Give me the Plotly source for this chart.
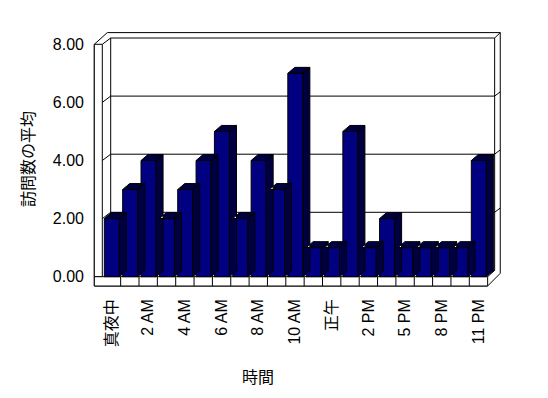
import plotly.graph_objects as go

# ---- data ----
categories = ["真夜中", "1 AM", "2 AM", "3 AM", "4 AM", "5 AM", "6 AM", "7 AM",
              "8 AM", "9 AM", "10 AM", "11 AM", "正午", "1 PM", "2 PM", "3 PM",
              "5 PM", "6 PM", "8 PM", "9 PM", "11 PM"]
values = [2, 3, 4, 2, 3, 4, 5, 2, 4, 3, 7, 1, 1, 5, 1, 2, 1, 1, 1, 1, 4]
y_ticks = [0, 2, 4, 6, 8]
y_title = "訪問数の平均"
x_title = "時間"

# ---- geometry (pixel calibration, page coordinates) ----
OFF = 8              # default page body margin
W, H = 548 - OFF, 398 - OFF
PXX = 18.35          # px per category slot
PXY = 29.05          # px per value unit
X0PX = 102.3 - OFF   # px of slot 0 left edge (front)
Y0PX = 276.7 - OFF   # px of value 0 (front)
L, R, T, B = 90 - OFF, 505 - OFF, 28 - OFF, 290 - OFF

def dx(px):
    return px / PXX

def dy(px):
    return px / PXY

xr = [(L - X0PX) / PXX, (R - X0PX) / PXX]
yr = [(Y0PX - B) / PXY, (Y0PX - T) / PXY]

n = len(categories)
ymax = y_ticks[-1]
bw = 0.82
boff = 0.02
bdx, bdy = dx(7), dy(6)        # bar depth
wdx, wdy = dx(8.4), dy(6.3)    # wall depth
lw_out = -dx(8)                # left wall outer x
floor_b = -dy(9.3)             # floor bottom
right_in = n + dx(7)           # back wall inner right
right_out = n + dx(12.6)
top_out = ymax + dy(11.7)

line = dict(color="black", width=1)
shapes = []

def poly(pts, fill="white"):
    path = "M " + " L ".join(f"{x},{y}" for x, y in pts) + " Z"
    shapes.append(dict(type="path", path=path, xref="x", yref="y",
                       fillcolor=fill, line=line, layer="below"))

def seg(x1, y1, x2, y2):
    shapes.append(dict(type="line", x0=x1, y0=y1, x1=x2, y1=y2, xref="x", yref="y",
                       line=line, layer="below"))

# back wall + outer silhouette
poly([(lw_out, ymax), (wdx - dx(3.4), top_out), (right_out, top_out),
      (right_out, dy(3.4)), (n, floor_b), (lw_out, floor_b)])
# back wall inner face
poly([(wdx, wdy), (wdx, ymax + wdy), (right_in, ymax + wdy), (right_in, wdy)])
seg(0, ymax, wdx, ymax + wdy)
seg(right_in, ymax + wdy, right_out, top_out)
seg(n, 0, right_in, wdy)
# gridlines
for v in y_ticks[1:-1]:
    seg(lw_out, v, 0, v)
    seg(0, v, wdx, v + wdy)
    seg(wdx, v + wdy, right_in, v + wdy)
    seg(right_in, v + wdy, right_out, v + wdy + dy(4.3))
# left wall front face
poly([(lw_out, 0), (lw_out, ymax), (0, ymax), (0, 0)])
# floor front face with slot dividers
poly([(lw_out, floor_b), (lw_out, 0), (n, 0), (n, floor_b)])
for i in range(1, n):
    seg(i, floor_b, i, 0)

# ---- 3D bar side/top faces (computed from values) ----
sx, sy = [], []
centers = [i + 0.5 + boff for i in range(n)]
for c, v in zip(centers, values):
    l, r = c - bw / 2, c + bw / 2
    # side face
    sx += [r, r + bdx, r + bdx, r, r, None]
    sy += [0, bdy, v + bdy, v, 0, None]
    # top face
    sx += [l, l + bdx, r + bdx, r, l, None]
    sy += [v, v + bdy, v + bdy, v, v, None]

fig = go.Figure()
fig.add_trace(go.Scatter(x=sx, y=sy, mode="lines", fill="toself",
                         fillcolor="#000040", line=dict(color="black", width=1),
                         hoverinfo="skip", showlegend=False))
fig.add_trace(go.Bar(x=centers, y=values, width=bw,
                     marker=dict(color="#000080", line=dict(color="black", width=1)),
                     showlegend=False, hovertext=categories))

font_fam = "Liberation Sans, Arial, Noto Sans CJK JP, sans-serif"
fig.update_layout(
    width=W, height=H,
    margin=dict(l=L, r=W - R, t=T, b=H - B, pad=0, autoexpand=False),
    paper_bgcolor="white", plot_bgcolor="white",
    font=dict(family=font_fam, size=16, color="black"),
    shapes=shapes,
    xaxis=dict(range=xr, showgrid=False, zeroline=False, showline=False,
               automargin=False,
               tickvals=[i + 0.5 for i in range(0, n, 2)],
               ticktext=categories[::2], tickangle=-90, ticks="",
               ticklabelstandoff=5, fixedrange=True),
    yaxis=dict(range=yr, showgrid=False, zeroline=False, showline=False,
               automargin=False,
               tickvals=y_ticks, tickformat=".2f", ticks="",
               ticklabelstandoff=5,
               title=dict(text=y_title, standoff=14, font=dict(size=16)),
               fixedrange=True),
    annotations=[dict(text=x_title, x=(258 - OFF - L) / (R - L),
                      y=-(377 - OFF - B) / (B - T),
                      xref="paper", yref="paper", showarrow=False,
                      xanchor="center", yanchor="middle", font=dict(size=16))],
)

fig.write_html("out.html")
